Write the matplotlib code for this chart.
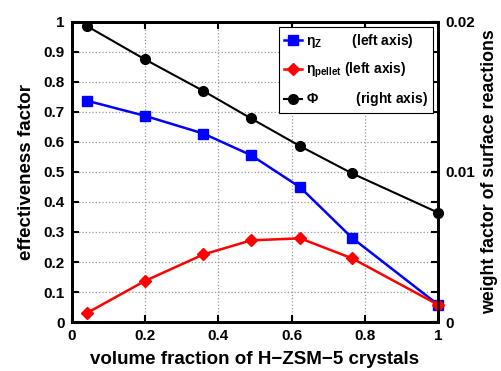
import matplotlib
matplotlib.use('Agg')
import matplotlib.pyplot as plt
import numpy as np

plt.rcParams['font.family'] = ['Liberation Sans', 'DejaVu Sans']
plt.rcParams['font.weight'] = 'bold'
plt.rcParams['mathtext.fontset'] = 'custom'
plt.rcParams['mathtext.rm'] = 'Liberation Sans:bold'
plt.rcParams['mathtext.bf'] = 'Liberation Sans:bold'
plt.rcParams['mathtext.it'] = 'Liberation Sans:bold'

# data
vol_frac = [0.043, 0.2, 0.359, 0.489, 0.623, 0.765, 1.0]
eta_z = [0.737, 0.687, 0.628, 0.556, 0.449, 0.280, 0.057]
eta_pellet = [0.031, 0.137, 0.225, 0.272, 0.279, 0.212, 0.057]
phi = [0.0197, 0.0175, 0.0154, 0.01357, 0.01172, 0.0099, 0.00728]

x_ticks = [0, 0.2, 0.4, 0.6, 0.8, 1]
x_ticklabels = ['0', '0.2', '0.4', '0.6', '0.8', '1']
y_ticks = [0, 0.1, 0.2, 0.3, 0.4, 0.5, 0.6, 0.7, 0.8, 0.9, 1]
y_ticklabels = ['0', '0.1', '0.2', '0.3', '0.4', '0.5', '0.6', '0.7', '0.8', '0.9', '1']
y2_ticks = [0, 0.01, 0.02]
y2_ticklabels = ['0', '0.01', '0.02']

fig = plt.figure(figsize=(5.01, 3.71), dpi=100)
ax = fig.add_axes([0.143, 0.132, 0.732, 0.809])
ax2 = ax.twinx()

l1, = ax.plot(vol_frac, eta_z, '-s', color='blue', lw=1.8, ms=6.5, mec='blue', mfc='blue')
l2, = ax.plot(vol_frac, eta_pellet, '-D', color='red', lw=1.8, ms=6.5, mec='red', mfc='red')
l3, = ax2.plot(vol_frac, phi, '-o', color='black', lw=1.5, ms=7, clip_on=False)
l1.set_clip_on(False)
l2.set_clip_on(False)

ax.set_xlim(0, 1)
ax.set_ylim(0, 1)
ax2.set_ylim(0, 0.02)

ax.set_xticks(x_ticks)
ax.set_xticklabels(x_ticklabels)
ax.set_yticks(y_ticks)
ax.set_yticklabels(y_ticklabels)
ax2.set_yticks(y2_ticks)
ax2.set_yticklabels(y2_ticklabels)

ax.grid(True, color='#999999', linestyle=':', linewidth=0.9)
ax.tick_params(direction='in', length=5, width=1.5, labelsize=11, top=True, right=True, pad=5)
ax2.tick_params(direction='in', length=5, width=1.5, labelsize=11, pad=5)

for a in (ax, ax2):
    for s in a.spines.values():
        s.set_linewidth(2)

ax.set_xlabel('volume fraction of H\u2212ZSM\u22125 crystals', fontsize=13.5, fontweight='bold', labelpad=6)
ax.set_ylabel('effectiveness factor', fontsize=13.5, fontweight='bold', labelpad=6)
ax2.set_ylabel('weight factor of surface reactions', fontsize=12.8, fontweight='bold', labelpad=4)

labels = [r'$\eta_{Z}$' + '        (left axis)',
          r'$\eta_{pellet}$' + ' (left axis)',
          r'$\Phi$' + '          (right axis)']
leg = ax2.legend([l1, l2, l3], labels, loc='upper right', fontsize=10,
                 handlelength=1.3, handletextpad=0.3, borderaxespad=0.4,
                 labelspacing=0.75, fancybox=False, framealpha=1, borderpad=0.35)
leg.get_frame().set_edgecolor('black')
leg.get_frame().set_linewidth(0.8)

fig.savefig('out.png', dpi=100)
